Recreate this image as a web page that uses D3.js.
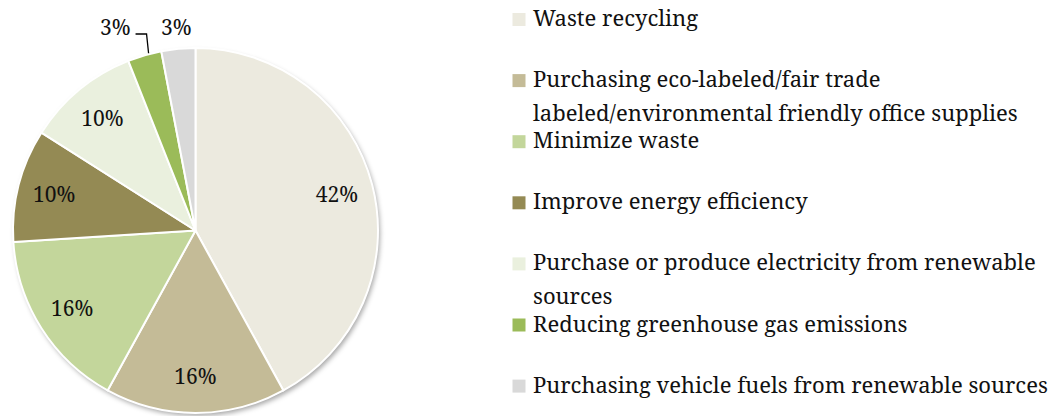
<!DOCTYPE html>
<html>
<head>
<meta charset="utf-8">
<script src="https://cdn.jsdelivr.net/npm/d3@7/dist/d3.min.js"></script>
<style>
  html, body { margin: 0; padding: 0; background: #fff; }
  svg { display: block; }
  text { font-family: "Noto Serif", "Liberation Serif", serif; fill: #111; }
</style>
</head>
<body>
<svg id="chart" width="1052" height="416"></svg>
<script>
// Environmental practices, share of respondents (%)
const categories = [
  "Waste recycling",
  "Purchasing eco-labeled/fair trade labeled/environmental friendly office supplies",
  "Minimize waste",
  "Improve energy efficiency",
  "Purchase or produce electricity from renewable sources",
  "Reducing greenhouse gas emissions",
  "Purchasing vehicle fuels from renewable sources"
];
const values = [42, 16, 16, 10, 10, 3, 3];
const colors = ["#ECEADF", "#C4BB97", "#C3D69B", "#948A54", "#EAF0DE", "#9BBB59", "#D9D9D9"];
// Legend entries, wrapped the way they appear
const legendLines = [
  ["Waste recycling"],
  ["Purchasing eco-labeled/fair trade", "labeled/environmental friendly office supplies"],
  ["Minimize waste"],
  ["Improve energy efficiency"],
  ["Purchase or produce electricity from renewable", "sources"],
  ["Reducing greenhouse gas emissions"],
  ["Purchasing vehicle fuels from renewable sources"]
];

const svg = d3.select("#chart");
const cx = 195.5, cy = 230.5, R = 182.5;

const defs = svg.append("defs");
const f = defs.append("filter").attr("id", "shadow")
  .attr("x", "-10%").attr("y", "-10%").attr("width", "125%").attr("height", "125%");
f.append("feDropShadow").attr("dx", 2).attr("dy", 3).attr("stdDeviation", 2.5)
  .attr("flood-color", "#000").attr("flood-opacity", 0.35);

const pie = d3.pie().sort(null).value(d => d)
  .startAngle(0).endAngle(2 * Math.PI);
const arcs = pie(values);
const arc = d3.arc().innerRadius(0).outerRadius(R);
const labelArc = d3.arc().innerRadius(R * 0.8).outerRadius(R * 0.8);
const color = d3.scaleOrdinal().domain(d3.range(values.length)).range(colors);

const g = svg.append("g").attr("transform", `translate(${cx},${cy})`);

// Shadow disc underneath the slices
g.append("circle").attr("r", R).attr("fill", "#fff").attr("filter", "url(#shadow)");

g.selectAll("path.slice").data(arcs).enter().append("path")
  .attr("class", "slice")
  .attr("d", arc)
  .attr("fill", (d, i) => color(i))
  .attr("stroke", "#fff")
  .attr("stroke-width", 2)
  .attr("stroke-linejoin", "round");

const fmt = v => v + "%";
const labelSize = 21;

// Large slices: labels inside
arcs.forEach((d, i) => {
  if (d.data < 5) return;
  const [x, y] = labelArc.centroid(d);
  g.append("text")
    .attr("x", x).attr("y", y + 7.5)
    .attr("text-anchor", "middle")
    .style("font-size", labelSize + "px")
    .text(fmt(d.data));
});

// Small slices: labels outside along the top, nudged apart
const small = arcs.filter(d => d.data < 5);
const outY = -203.5;
const outer = small.map(d => {
  const a = (d.startAngle + d.endAngle) / 2;
  const natural = Math.sin(a) * (-outY) / Math.cos(a);
  return { d, a, natural, x: natural };
});
// keep at least one label-width between neighbours, pushing earlier ones left
for (let k = outer.length - 2; k >= 0; k--) {
  outer[k].x = Math.min(outer[k].x, outer[k + 1].x - 61);
}
outer.forEach(p => {
  const t = g.append("text")
    .attr("x", p.x).attr("y", outY + 7.5)
    .attr("text-anchor", "middle")
    .style("font-size", labelSize + "px")
    .text(fmt(p.d.data));
  // leader line when the label was moved away from its slice
  if (Math.abs(p.natural - p.x) > 10) {
    const w = t.node().getComputedTextLength();
    const edge = [Math.sin(p.a) * R, -Math.cos(p.a) * R];
    const x0 = p.x + w / 2 + 5, yl = outY + 7;
    g.append("path")
      .attr("d", `M${x0},${yl}H${x0 + 11}L${edge[0] + 4},${edge[1] - 2}`)
      .attr("fill", "none").attr("stroke", "#000").attr("stroke-width", 1.3);
  }
});

// Legend
const legX = 512.5, legBase = 26, legStep = 61.1, lineH = 33.5, legendSize = 22;
const leg = svg.append("g");
legendLines.forEach((lines, i) => {
  const y = legBase + i * legStep;
  leg.append("rect")
    .attr("x", legX).attr("y", y - 13)
    .attr("width", 13).attr("height", 13)
    .attr("fill", color(i));
  lines.forEach((ln, j) => {
    leg.append("text")
      .attr("x", legX + 20.5).attr("y", y + j * lineH)
      .style("font-size", legendSize + "px")
      .text(ln);
  });
});
</script>
</body>
</html>
